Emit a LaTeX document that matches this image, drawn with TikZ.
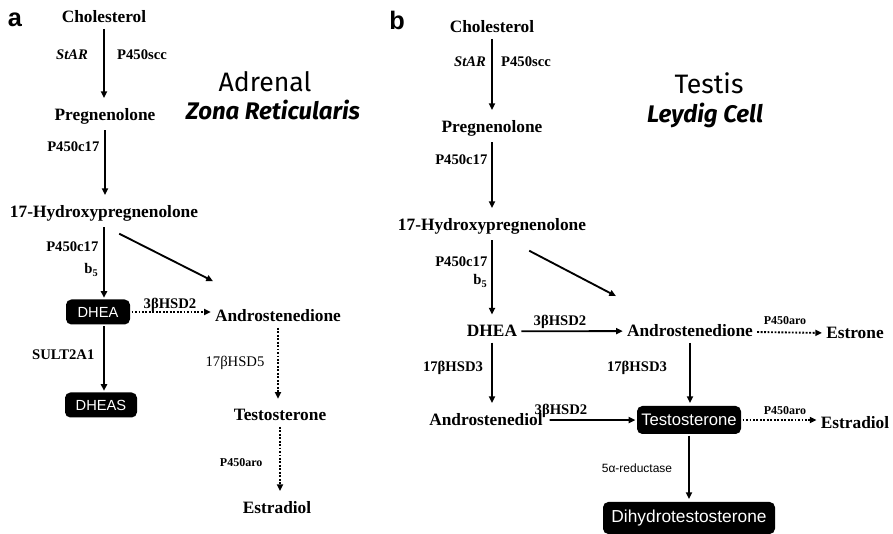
\documentclass[tikz,border=0pt]{standalone}
\usepackage{fontspec}
\setmainfont{Liberation Serif}
\setsansfont{Liberation Sans}
\newfontfamily\comicfont{Fira Sans}
\usetikzlibrary{arrows.meta, positioning, calc}

\begin{document}
\begin{tikzpicture}[x=0.75pt, y=-0.75pt,
    met/.style={font=\fontsize{13}{15}\selectfont\bfseries, anchor=base, inner xsep=2pt, inner ysep=3pt},
    enz/.style={font=\fontsize{11}{13}\selectfont\bfseries, inner sep=1pt},
    aro/.style={font=\fontsize{9}{11}\selectfont\bfseries, inner sep=1pt},
    blk/.style={fill=black, text=white, rounded corners=4pt, font=\sffamily\fontsize{11}{13}\selectfont, inner sep=2pt},
    arr/.style={line width=1.4pt, -{Triangle[length=5pt,width=4.5pt]}, shorten <=1pt, shorten >=1pt},
    gap/.style={shorten >=5pt},
    dotarr/.style={arr, dash pattern=on 1.4pt off 1.2pt},
    ttl/.style={font=\comicfont\fontsize{20}{22}\selectfont},
    subttl/.style={font=\comicfont\fontsize{18}{20}\selectfont\bfseries\itshape},
    panel/.style={font=\sffamily\bfseries\fontsize{19}{21}\selectfont}]
  \useasboundingbox (0,0) rectangle (893,534);

  % adrenal
  \node[panel] (alet) at (15,20) {a};
  \node[met] (acho) at (104,23) {Cholesterol};
  \node[met] (apreg) at (105,121) {Pregnenolone};
  \node[met] (ahyd) at (104,218) {17-Hydroxypregnenolone};
  \node[blk, minimum width=48pt, minimum height=18.75pt] (adhea) at (98,312) {DHEA};
  \node[blk, minimum width=54pt, minimum height=18.75pt] (adheas) at (101,405) {DHEAS};
  \node[met] (aandro) at (278,322) {Androstenedione};
  \node[met] (atesto) at (280,421) {Testosterone};
  \node[met] (aestra) at (277,514) {Estradiol};
  \node[ttl] (atitle) at (265,82) {Adrenal};
  \node[subttl] (asub) at (273,110) {Zona Reticularis};

  \node[enz] at (72,55) {\itshape StAR};
  \node[enz] at (142,55) {P450scc};
  \node[enz, anchor=east] at (101,147) {P450c17};
  \node[enz, anchor=east] at (100,247) {P450c17};
  \node[enz, anchor=east] at (100,270) {b\textsubscript{5}};
  \node[enz, anchor=east] at (96,355) {SULT2A1};
  \node[enz] at (170,305) {3βHSD2};
  \node[enz, font=\fontsize{11}{13}\selectfont] at (235,363) {17βHSD5};
  \node[aro, anchor=east] at (264,463) {P450aro};

  \draw[arr, gap] (acho) -- (acho |- apreg.north);
  \draw[arr, gap] (apreg) -- (apreg |- ahyd.north);
  \draw[arr] (ahyd) -- (ahyd |- adhea.north);
  \draw[arr] (ahyd |- adhea.south) -- (ahyd |- adheas.north);
  \draw[arr] ($(ahyd.south)+(14,7)$) -- ($(aandro.north west)+(2,-24)$);
  \draw[dotarr] (adhea) -- (adhea -| aandro.west);
  \draw[dotarr, gap] (aandro) -- (aandro |- atesto.north);
  \draw[dotarr, gap] (atesto) -- (atesto |- aestra.north);

  % testis
  \node[panel] (blet) at (397,20) {b};
  \node[met] (bcho) at (492,33) {Cholesterol};
  \node[met] (bpreg) at (492,133) {Pregnenolone};
  \node[met] (bhyd) at (492,231) {17-Hydroxypregnenolone};
  \node[met] (bdhea) at (492,337) {DHEA};
  \node[met] (bandro) at (690,337) {Androstenedione};
  \node[met] (bestrone) at (855,339) {Estrone};
  \node[met] (bdiol) at (486,426) {Androstenediol};
  \node[blk, font=\sffamily\fontsize{12.5}{14}\selectfont, minimum width=78pt, minimum height=21pt] (btesto) at (689,420) {Testosterone};
  \node[met] (bestra) at (855,429) {Estradiol};
  \node[blk, font=\sffamily\fontsize{13}{15}\selectfont, minimum width=129pt, minimum height=24pt] (bdht) at (689,518) {Dihydrotestosterone};
  \node[ttl] (btitle) at (709,83) {Testis};
  \node[subttl] (bsub) at (705,115) {Leydig Cell};

  \node[enz] at (470,62) {\itshape StAR};
  \node[enz] at (526,62) {P450scc};
  \node[enz, anchor=east] at (489,160) {P450c17};
  \node[enz, anchor=east] at (489,262) {P450c17};
  \node[enz, anchor=east] at (489,281) {b\textsubscript{5}};
  \node[enz] at (560,322) {3βHSD2};
  \node[aro] at (785,321) {P450aro};
  \node[enz] at (453,368) {17βHSD3};
  \node[enz] at (637,368) {17βHSD3};
  \node[enz] at (561,411) {3βHSD2};
  \node[aro] at (785,411) {P450aro};
  \node[aro, font=\sffamily\fontsize{9}{11}\selectfont] at (637,468) {5α-reductase};

  \draw[arr, gap] (bcho) -- (bcho |- bpreg.north);
  \draw[arr, gap] (bpreg) -- (bpreg |- bhyd.north);
  \draw[arr, gap] (bhyd) -- (bhyd |- bdhea.north);
  \draw[arr] ($(bhyd.south)+(36,11)$) -- ($(bandro.north west)+(-7,-24)$);
  \draw[arr] (bdhea) -- (bandro);
  \draw[dotarr] (bandro) -- (bestrone);
  \draw[arr, gap] (bdhea) -- (bdhea |- bdiol.north);
  \draw[arr, shorten >=2pt] (bandro) -- (bandro |- btesto.north);
  \draw[arr, shorten <=3pt] (bdiol) -- (btesto);
  \draw[dotarr] (btesto) -- (btesto -| bestra.west);
  \draw[arr, shorten >=2pt] (btesto) -- (btesto |- bdht.north);
\end{tikzpicture}
\end{document}
